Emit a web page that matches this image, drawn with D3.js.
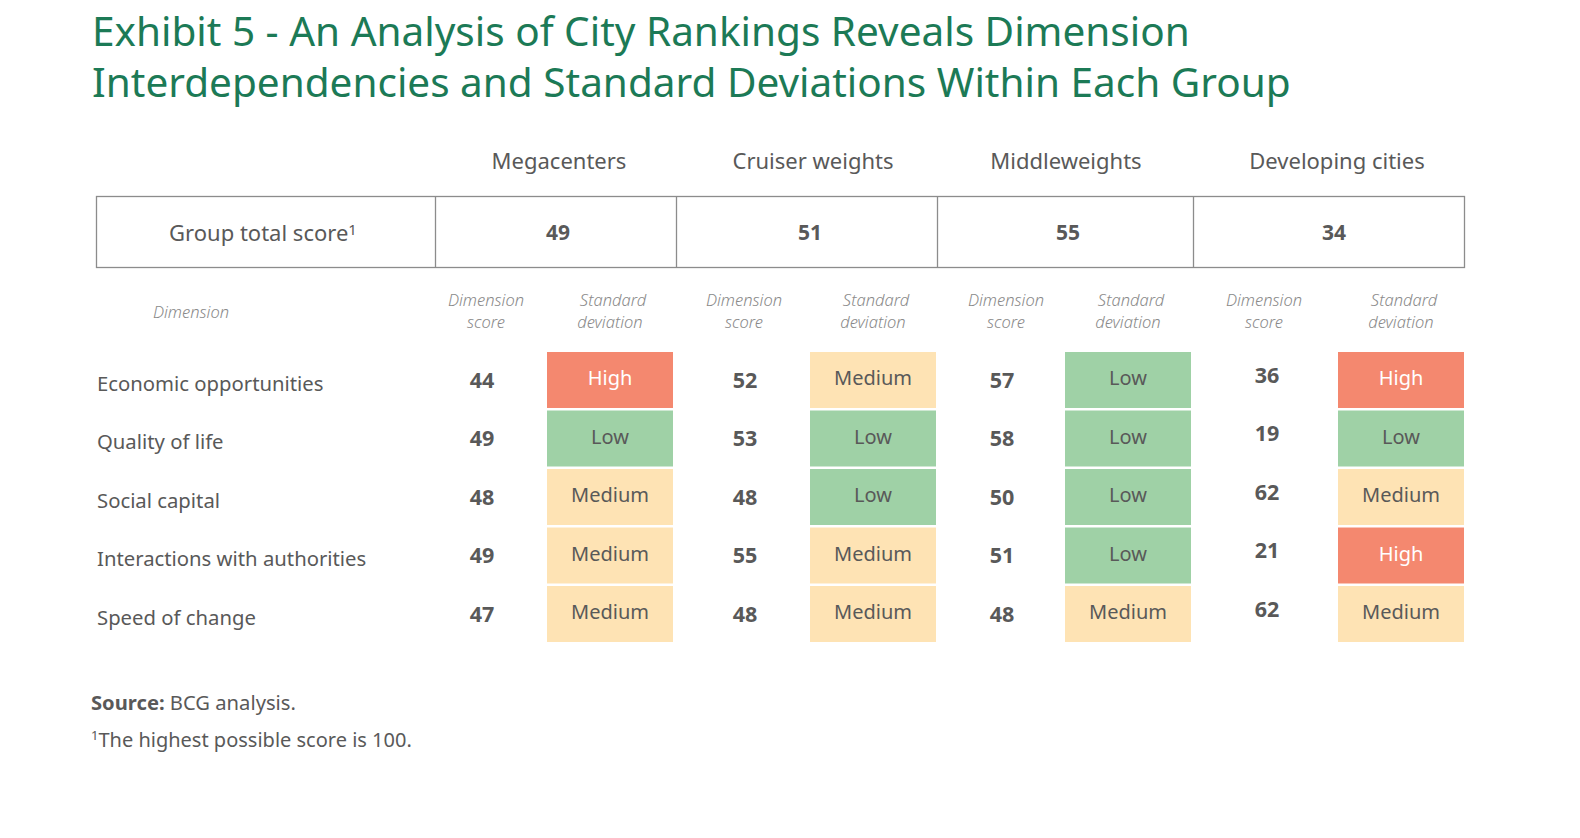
<!DOCTYPE html>
<html><head><meta charset="utf-8">
<script src="https://cdn.jsdelivr.net/npm/d3@7/dist/d3.min.js"></script>
<style>
html,body{margin:0;padding:0;background:#fff;}
svg{display:block;}
</style></head>
<body>
<svg id="chart" width="1580" height="838"></svg>
<script>
const titleLines = ["Exhibit 5 - An Analysis of City Rankings Reveals Dimension",
                    "Interdependencies and Standard Deviations Within Each Group"];
const groups = ["Megacenters", "Cruiser weights", "Middleweights", "Developing cities"];
const groupTotals = [49, 51, 55, 34];
const dimensions = ["Economic opportunities", "Quality of life", "Social capital",
                    "Interactions with authorities", "Speed of change"];
const megacentersScores = [44, 49, 48, 49, 47];
const cruiserScores = [52, 53, 48, 55, 48];
const middleweightScores = [57, 58, 50, 51, 48];
const developingScores = [36, 19, 62, 21, 62];
const megacentersDev = ["High", "Low", "Medium", "Medium", "Medium"];
const cruiserDev = ["Medium", "Low", "Low", "Medium", "Medium"];
const middleweightDev = ["Low", "Low", "Low", "Low", "Medium"];
const developingDev = ["High", "Low", "Medium", "High", "Medium"];
const levels = ["High", "Medium", "Low"];

const scoresByGroup = [megacentersScores, cruiserScores, middleweightScores, developingScores];
const devByGroup = [megacentersDev, cruiserDev, middleweightDev, developingDev];

const svg = d3.select("#chart");
const FONT = "'Noto Sans', 'Open Sans', sans-serif";
const GREY = "#595959";

// colour scale for deviation levels
const fill = d3.scaleOrdinal().domain(levels).range(["#f4886f", "#fee3b4", "#9fd1a6"]);
const textFill = d3.scaleOrdinal().domain(levels).range(["#ffffff", GREY, GREY]);

// column layout scales
const boxEdges = [96, 435, 676, 937, 1193, 1464];
const groupCenter = d3.scaleOrdinal().domain(groups).range([559, 813, 1066, 1337]);
const totalCenter = d3.scaleOrdinal().domain(groups).range([558, 810, 1068, 1334]);
const scoreX = d3.scaleOrdinal().domain(groups).range([482, 745, 1002, 1267]);
const scoreShift = d3.scaleOrdinal().domain(groups).range([0, 0, 0, -5]);
const scoreHeadX = d3.scaleOrdinal().domain(groups).range([486, 744, 1006, 1264]);
const devX = d3.scaleOrdinal().domain(groups).range([547, 810, 1065, 1338]);
const devW = 126;
const y = d3.scaleBand().domain(dimensions).range([352, 642]).paddingInner(0.043);

// title
svg.append("g").selectAll("text").data(titleLines).join("text")
  .attr("x", 92).attr("y", (d, i) => 46 + i * 51)
  .attr("font-family", FONT).attr("font-size", 40.5).attr("fill", "#1c7a56")
  .text(d => d);

// group headers
svg.append("g").selectAll("text").data(groups).join("text")
  .attr("x", d => groupCenter(d)).attr("y", 169)
  .attr("text-anchor", "middle").attr("font-family", FONT).attr("font-size", 22)
  .attr("fill", GREY).text(d => d);

// total box
svg.append("rect").attr("x", boxEdges[0] + 0.5).attr("y", 196.5)
  .attr("width", boxEdges[5] - boxEdges[0]).attr("height", 71)
  .attr("fill", "none").attr("stroke", "#8c8c8c").attr("stroke-width", 1.3);
svg.append("g").selectAll("line").data(boxEdges.slice(1, 5)).join("line")
  .attr("x1", d => d + 0.5).attr("x2", d => d + 0.5).attr("y1", 196.5).attr("y2", 267.5)
  .attr("stroke", "#8c8c8c").attr("stroke-width", 1.3);
const gt = svg.append("text").attr("x", 263).attr("y", 241).attr("text-anchor", "middle")
  .attr("font-family", FONT).attr("font-size", 22).attr("fill", GREY);
gt.append("tspan").text("Group total score");
gt.append("tspan").attr("font-size", 15).attr("dy", -6).text("1");
svg.append("g").selectAll("text").data(groups).join("text")
  .attr("x", d => totalCenter(d)).attr("y", 240)
  .attr("text-anchor", "middle").attr("font-family", FONT).attr("font-size", 21)
  .attr("font-weight", 700).attr("fill", GREY)
  .text((d, i) => groupTotals[i]);

// sub headers
const sub = svg.append("g").attr("font-family", FONT).attr("font-style", "italic")
  .attr("font-size", 16.5).attr("fill", "#8a8a8a").attr("text-anchor", "middle")
  .attr("font-weight", 300);
sub.append("text").attr("x", 191).attr("y", 318).text("Dimension");
const subHead = sub.selectAll("g.sh").data(groups).join("g").attr("class", "sh");
subHead.append("text").attr("x", d => scoreHeadX(d)).attr("y", 306).text("Dimension");
subHead.append("text").attr("x", d => scoreHeadX(d)).attr("y", 328).text("score");
subHead.append("text").attr("x", d => devX(d) + devW / 2 + 3).attr("y", 306).text("Standard");
subHead.append("text").attr("x", d => devX(d) + devW / 2).attr("y", 328).text("deviation");

// row labels
svg.append("g").selectAll("text").data(dimensions).join("text")
  .attr("x", 97).attr("y", d => y(d) + y.bandwidth() / 2 + 3).attr("dy", "0.38em")
  .attr("font-family", FONT).attr("font-size", 20.3).attr("fill", GREY).text(d => d);

// per group cells
groups.forEach((g, gi) => {
  const grp = svg.append("g");
  const rows = dimensions.map((d, i) => ({dim: d, score: scoresByGroup[gi][i], dev: devByGroup[gi][i]}));
  grp.selectAll("text.score").data(rows).join("text").attr("class", "score")
    .attr("x", scoreX(g)).attr("y", d => y(d.dim) + y.bandwidth() / 2 + scoreShift(g)).attr("dy", "0.36em")
    .attr("text-anchor", "middle").attr("font-family", FONT).attr("font-size", 21.5)
    .attr("font-weight", 700).attr("fill", GREY).text(d => d.score);
  grp.selectAll("rect").data(rows).join("rect")
    .attr("x", devX(g)).attr("y", d => y(d.dim)).attr("width", devW).attr("height", y.bandwidth())
    .attr("fill", d => fill(d.dev));
  grp.selectAll("text.dev").data(rows).join("text").attr("class", "dev")
    .attr("x", devX(g) + devW / 2).attr("y", d => y(d.dim) + y.bandwidth() / 2 - 2).attr("dy", "0.36em")
    .attr("text-anchor", "middle").attr("font-family", FONT).attr("font-size", 20)
    .attr("fill", d => textFill(d.dev)).text(d => d.dev);
});

// source & footnote
const src = svg.append("text").attr("x", 91).attr("y", 710).attr("font-family", FONT)
  .attr("font-size", 20.2).attr("fill", GREY);
src.append("tspan").attr("font-weight", 700).text("Source:");
src.append("tspan").text(" BCG analysis.");
const fn = svg.append("text").attr("x", 91).attr("y", 747).attr("font-family", FONT)
  .attr("font-size", 20).attr("fill", GREY);
fn.append("tspan").attr("font-size", 13).attr("dy", -7).text("1");
fn.append("tspan").attr("dy", 7).text("The highest possible score is 100.");
</script>
</body></html>
